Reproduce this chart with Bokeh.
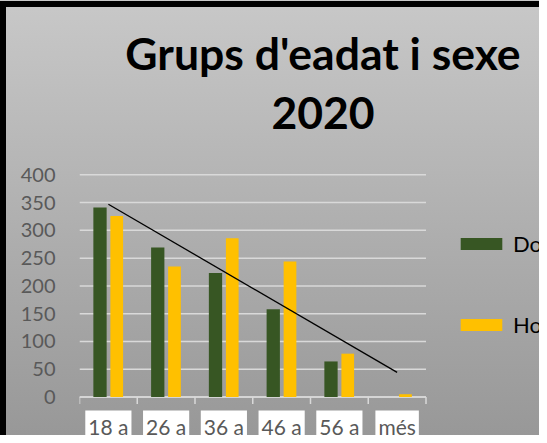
import numpy as np
from bokeh.plotting import figure
from bokeh.models import (Range1d, FixedTicker, Legend, LegendItem, Label, ColumnDataSource)
from bokeh.embed import file_html
from bokeh.resources import INLINE

categories = ["18 a", "26 a", "36 a", "46 a", "56 a", "més"]
dones = [341, 269, 223, 158, 64, 0]
homes = [326, 235, 286, 244, 78, 5]
y_ticks = [0, 50, 100, 150, 200, 250, 300, 350, 400]
title_lines = ["Grups d'eadat i sexe", "2020"]

FONT = "Lato"
GREEN = "#375623"
YELLOW = "#FFC000"
GRID = "#d9d9d9"

n = len(categories)
centers = [i + 0.5 for i in range(n)]
edges = list(range(n + 1))

# frame spans the whole figure right of the y-axis panel; value axis 0..400 sits in the middle
PX_PER_CAT = 57.75
PX_PER_UNIT = 222.2 / 400
FRAME_W, FRAME_H = 460, 435
Y0_FROM_BOTTOM = 38.5
x_end = FRAME_W / PX_PER_CAT
y_start = -Y0_FROM_BOTTOM / PX_PER_UNIT
y_end = (FRAME_H - Y0_FROM_BOTTOM) / PX_PER_UNIT

p = figure(width=539, height=435, output_backend="svg", toolbar_location=None,
           x_range=Range1d(0, x_end), y_range=Range1d(y_start, y_end),
           x_axis_location=None,
           min_border_left=79, min_border_right=0, min_border_top=0, min_border_bottom=0)
p.background_fill_color = None
p.border_fill_color = None
p.outline_line_color = None
p.styles = {
    "background": "linear-gradient(#000,#000) 0 1px/6px 100% no-repeat, "
                  "linear-gradient(#000,#000) 0 1px/100% 6px no-repeat, "
                  "linear-gradient(to bottom, #c8c8c8, #989898)"
}

# horizontal grid lines over the category span
p.segment(x0=[0] * len(y_ticks), x1=[n] * len(y_ticks), y0=y_ticks, y1=y_ticks,
          line_color=GRID, line_width=1.5)
p.xgrid.grid_line_color = None
p.ygrid.grid_line_color = None

# category axis line and boundary ticks
tick_len = 7 / PX_PER_UNIT
p.segment(x0=[0], x1=[n], y0=[0], y1=[0], line_color=GRID, line_width=1.5)
p.segment(x0=edges, x1=edges, y0=[0] * len(edges), y1=[-tick_len] * len(edges),
          line_color=GRID, line_width=1.5)

src = ColumnDataSource(dict(xd=[c - 0.145 for c in centers], xh=[c + 0.145 for c in centers],
                            dones=dones, homes=homes))
r1 = p.vbar(x="xd", top="dones", width=0.23, source=src, fill_color=GREEN, line_color=None)
r2 = p.vbar(x="xh", top="homes", width=0.22, source=src, fill_color=YELLOW, line_color=None)

# linear trend line of the Homes series
xs = np.arange(1, n + 1)
k, b = np.polyfit(xs, np.array(homes, dtype=float), 1)
p.line(x=[centers[0], centers[-1]], y=[k * 1 + b, k * n + b], line_color="black", line_width=1.3)

# y axis
p.yaxis.ticker = FixedTicker(ticks=y_ticks)
p.yaxis.axis_line_color = None
p.yaxis.major_tick_line_color = None
p.yaxis.major_tick_out = 0
p.yaxis.major_tick_in = 0
p.yaxis.minor_tick_line_color = None
p.yaxis.major_label_standoff = 24
p.yaxis.major_label_text_font = FONT
p.yaxis.major_label_text_font_size = "20px"
p.yaxis.major_label_text_color = "#595959"

# category labels in white boxes
for c, lab in zip(centers, categories):
    p.add_layout(Label(x=c, y=25, x_units="data", y_units="screen", text=lab,
                       text_align="center", text_baseline="top",
                       text_font=FONT, text_font_size="21px", text_color="#595959",
                       background_fill_color="white", padding=3))

legend = Legend(items=[LegendItem(label="Dones", renderers=[r1]),
                       LegendItem(label="Homes", renderers=[r2])],
                location=(376, 97), orientation="vertical",
                glyph_width=52, glyph_height=15, label_height=25, spacing=54,
                label_standoff=6, padding=0, margin=0,
                border_line_color=None, background_fill_alpha=0,
                label_text_font=FONT, label_text_font_size="22px", label_text_color="black")
p.add_layout(legend, "center")

for txt, yb in zip(title_lines, [383, 323]):
    p.add_layout(Label(x=243.5, y=yb, x_units="screen", y_units="screen", text=txt,
                       text_align="center", text_baseline="alphabetic",
                       text_font=FONT, text_font_size="44.5px", text_font_style="bold",
                       text_color="black"))

open("out.html", "w").write(file_html(p, INLINE))
